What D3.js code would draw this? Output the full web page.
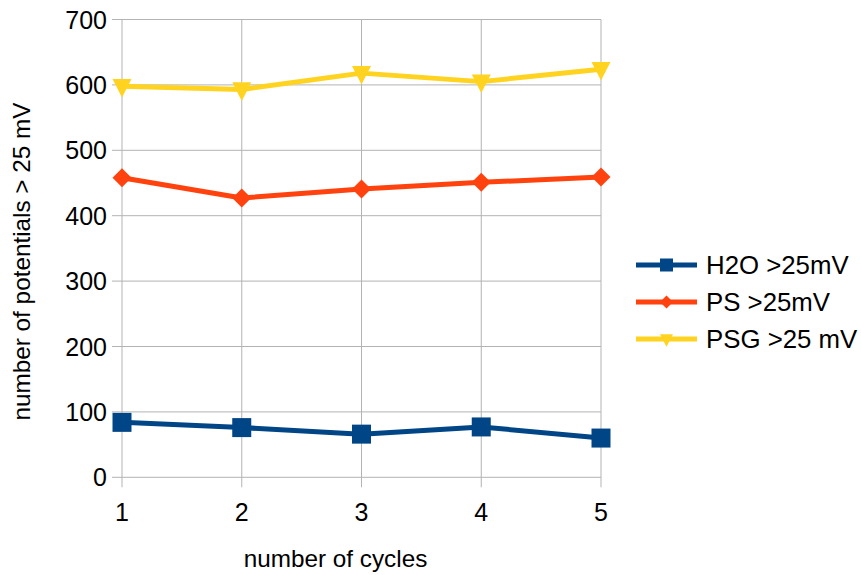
<!DOCTYPE html>
<html>
<head>
<meta charset="utf-8">
<script src="https://cdn.jsdelivr.net/npm/d3@7"></script>
<style>
  html, body { margin: 0; padding: 0; background: #fff; }
  text { font-family: "Liberation Sans", Arial, sans-serif; fill: #000; }
</style>
</head>
<body>
<svg id="chart" width="861" height="575"></svg>
<script>
const cycles = [1, 2, 3, 4, 5];
const yTicks = [0, 100, 200, 300, 400, 500, 600, 700];
const h2o = [84, 76, 66, 77, 60];
const ps = [458, 427, 441, 451, 459];
const psg = [598, 593, 618, 605, 624];
const seriesNames = ["H2O >25mV", "PS >25mV", "PSG >25 mV"];
const seriesColors = ["#004586", "#ff420e", "#ffd320"];
const seriesShapes = ["square", "diamond", "triangle"];
const seriesValues = [h2o, ps, psg];

(function () {
const svg = d3.select("#chart");
const pLeft = 122, pRight = 601, pTop = 19.5, pBottom = 477.3;

const x = d3.scaleLinear().domain([1, 5]).range([pLeft, pRight]);
const y = d3.scaleLinear().domain([0, 700]).range([pBottom, pTop]);

const grid = svg.append("g");
grid.selectAll("line.h").data(yTicks).enter().append("line")
  .attr("x1", pLeft - 10).attr("x2", pRight)
  .attr("y1", d => y(d)).attr("y2", d => y(d))
  .attr("stroke", "#b3b3b3").attr("stroke-width", 1);
grid.selectAll("line.v").data(cycles).enter().append("line")
  .attr("x1", d => x(d)).attr("x2", d => x(d))
  .attr("y1", pTop).attr("y2", pBottom + 10)
  .attr("stroke", "#b3b3b3").attr("stroke-width", 1);

svg.append("g").selectAll("text").data(yTicks).enter().append("text")
  .attr("x", pLeft - 15).attr("y", d => y(d) + 9)
  .attr("text-anchor", "end").attr("font-size", 25)
  .text(d => d);
svg.append("g").selectAll("text").data(cycles).enter().append("text")
  .attr("x", d => x(d)).attr("y", 521)
  .attr("text-anchor", "middle").attr("font-size", 25)
  .text(d => d);

svg.append("text").attr("x", 335.5).attr("y", 567)
  .attr("text-anchor", "middle").attr("font-size", 24.3)
  .text("number of cycles");
svg.append("text").attr("transform", "translate(30,261.5) rotate(-90)")
  .attr("text-anchor", "middle").attr("font-size", 24.3)
  .text("number of potentials > 25 mV");

function symbolPath(shape, size) {
  const s = size / 2;
  if (shape === "square") return `M${-s},${-s}H${s}V${s}H${-s}Z`;
  if (shape === "diamond") return `M0,${-s}L${s},0L0,${s}L${-s},0Z`;
  return `M${-s},${-s * 0.75}L${s},${-s * 0.75}L0,${s * 1.2}Z`;
}

const line = d3.line().x((d, i) => x(cycles[i])).y(d => y(d));
seriesValues.forEach((vals, k) => {
  const g = svg.append("g");
  g.append("path").datum(vals).attr("d", line)
    .attr("fill", "none").attr("stroke", seriesColors[k])
    .attr("stroke-width", 5).attr("stroke-linejoin", "round");
  g.selectAll("path.m").data(vals).enter().append("path")
    .attr("transform", (d, i) => `translate(${x(cycles[i])},${y(d)})`)
    .attr("d", symbolPath(seriesShapes[k], 19))
    .attr("fill", seriesColors[k]);
});

const legendY = [265, 302, 339];
seriesNames.forEach((name, k) => {
  const g = svg.append("g").attr("transform", `translate(0,${legendY[k]})`);
  g.append("line").attr("x1", 636).attr("x2", 697).attr("y1", 0).attr("y2", 0)
    .attr("stroke", seriesColors[k]).attr("stroke-width", 5);
  g.append("path").attr("transform", "translate(666.5,0)")
    .attr("d", symbolPath(seriesShapes[k], 13)).attr("fill", seriesColors[k]);
  g.append("text").attr("x", 706).attr("y", 9).attr("font-size", 25.8).text(name);
});
})();
</script>
</body>
</html>
